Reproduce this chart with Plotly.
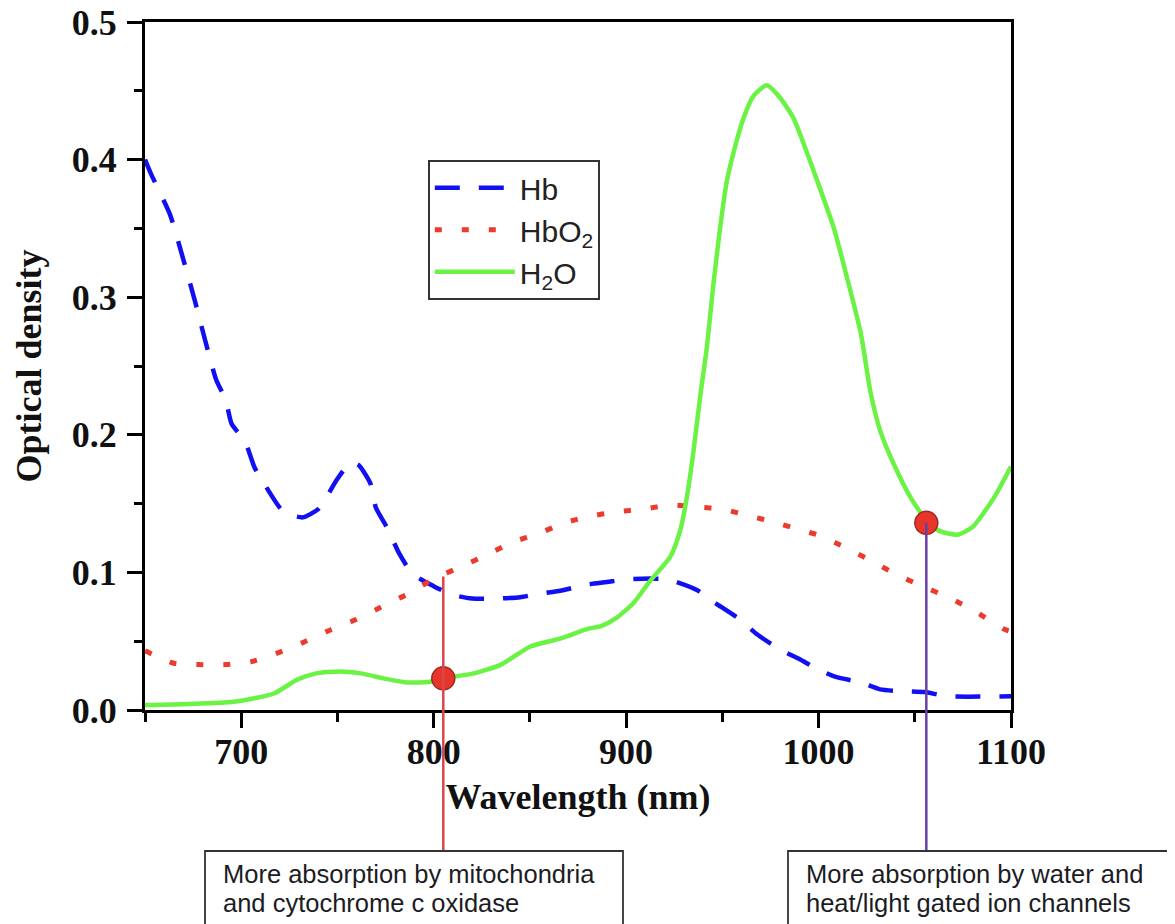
import plotly.graph_objects as go

# ---------------- data ----------------
hb_wl = [650, 653, 663, 670, 676, 681, 687, 692, 695, 702, 707, 713, 722, 732, 740, 744, 750,
         757, 761, 767, 770, 776, 782, 789, 800, 809, 820, 833, 845, 853, 867, 879, 890, 900,
         921, 937, 945, 959, 968, 980, 990, 999, 1009, 1022, 1032, 1044, 1055, 1067, 1100]
hb_od = [0.400, 0.390, 0.360, 0.327, 0.297, 0.270, 0.240, 0.225, 0.208, 0.195, 0.176, 0.162,
         0.144, 0.140, 0.146, 0.154, 0.168, 0.180, 0.178, 0.165, 0.147, 0.132, 0.114, 0.099,
         0.090, 0.084, 0.081, 0.081, 0.082, 0.084, 0.087, 0.091, 0.093, 0.095, 0.095, 0.087,
         0.079, 0.066, 0.055, 0.044, 0.037, 0.030, 0.024, 0.020, 0.015, 0.0136, 0.013, 0.010,
         0.010]

hbo2_wl = [650, 665, 678, 692, 705, 718, 732, 746, 760, 773, 786, 801, 814, 828, 841, 854, 868,
           880, 895, 909, 923, 937, 950, 964, 977, 990, 1000, 1014, 1028, 1041, 1054, 1068,
           1081, 1096, 1100]
hbo2_od = [0.043, 0.034, 0.033, 0.033, 0.035, 0.041, 0.049, 0.058, 0.066, 0.075, 0.084, 0.096,
           0.104, 0.113, 0.122, 0.128, 0.136, 0.1405, 0.144, 0.146, 0.149, 0.1475, 0.146,
           0.141, 0.1365, 0.131, 0.127, 0.118, 0.108, 0.098, 0.090, 0.0815, 0.072, 0.059,
           0.057]

h2o_wl = [650, 673, 696, 717, 729, 739, 751, 762, 774, 786, 798, 805, 821, 835, 850, 866, 880,
          887, 895, 904, 912, 923, 928, 931.5, 935, 938.5, 942, 945.4, 948.8, 952.3, 955.8,
          961, 966, 973, 980, 987, 994, 1001, 1008, 1015, 1022, 1027, 1032, 1039, 1048, 1057,
          1063, 1072, 1080, 1091, 1100]
h2o_od = [0.0036, 0.0044, 0.006, 0.012, 0.022, 0.0266, 0.028, 0.0266, 0.023, 0.020, 0.0206,
          0.023, 0.0266, 0.033, 0.046, 0.052, 0.059, 0.061, 0.067, 0.078, 0.093, 0.1115,
          0.130, 0.154, 0.188, 0.228, 0.264, 0.310, 0.350, 0.384, 0.405, 0.430, 0.446, 0.454,
          0.445, 0.430, 0.405, 0.378, 0.350, 0.313, 0.2735, 0.231, 0.203, 0.179, 0.154, 0.136,
          0.130, 0.1274, 0.133, 0.154, 0.177]

marker_wl = [805, 1056]
marker_od = [0.023, 0.136]
connector_top = [0.097, 0.136]
connector_colors = ["#d9474a", "#6b3fa3"]
note_lines = [["More absorption by mitochondria", "and cytochrome c oxidase"],
              ["More absorption by water and", "heat/light gated ion channels"]]

x_range = [650, 1100]
y_range = [0, 0.5]

# ---------------- figure ----------------
OFF = 8                      # default page body margin of the html page
W, H = 1175 - OFF, 924 - OFF
# target plot area in page pixels: x 145..1011, y 22..710
ML, MT = 145 - OFF, 22 - OFF
MR = W - (1011 - OFF)
MB = H - (710 - OFF)
plot_w = W - ML - MR
plot_h = H - MT - MB


def px_to_paper_x(px):          # page pixel -> paper fraction
    return (px - OFF - ML) / plot_w


def px_to_paper_y(py):
    return (H - MB - (py - OFF)) / plot_h


fig = go.Figure()

fig.add_trace(go.Scatter(x=hb_wl, y=hb_od, mode="lines", name="Hb",
                         line=dict(color="#1010f2", width=4.5, dash="25px,19px",
                                   shape="spline", smoothing=0.6)))
fig.add_trace(go.Scatter(x=hbo2_wl, y=hbo2_od, mode="lines", name="HbO<sub>2</sub>",
                         line=dict(color="#ec3b2e", width=5, dash="7px,20px",
                                   shape="spline", smoothing=0.6)))
fig.add_trace(go.Scatter(x=h2o_wl, y=h2o_od, mode="lines", name="H<sub>2</sub>O",
                         line=dict(color="#6af245", width=4.5, shape="spline", smoothing=0.6)))

# vertical connectors (xref data, yref paper so they extend below the axes)
box_top_px = 851
for wl, top, col in zip(marker_wl, connector_top, connector_colors):
    fig.add_shape(type="line", xref="x", yref="paper", x0=wl, x1=wl,
                  y0=top / (y_range[1] - y_range[0]), y1=px_to_paper_y(box_top_px),
                  line=dict(color=col, width=2.5), layer="above")

fig.add_trace(go.Scatter(x=marker_wl, y=marker_od, mode="markers", showlegend=False,
                         marker=dict(size=23, color="#e8352a",
                                     line=dict(color="#9c2a22", width=1.5)),
                         cliponaxis=False))

# annotation boxes
boxes = [(205, 623, 222), (788, 1200, 805)]
line_mid_px = [874, 903]
for (bx0, bx1, tx), lines in zip(boxes, note_lines):
    fig.add_shape(type="rect", xref="paper", yref="paper",
                  x0=px_to_paper_x(bx0), x1=px_to_paper_x(bx1),
                  y0=px_to_paper_y(box_top_px), y1=px_to_paper_y(960),
                  line=dict(color="#333333", width=1.8), fillcolor="white", layer="above")
    for txt, ym in zip(lines, line_mid_px):
        fig.add_annotation(xref="paper", yref="paper", x=px_to_paper_x(tx),
                           y=px_to_paper_y(ym), xanchor="left", yanchor="middle",
                           text=txt, showarrow=False, align="left", borderpad=0,
                           font=dict(family="Liberation Sans, Arial", size=25.5,
                                     color="#1c1c24"))

tick_font = dict(family="Liberation Serif, Times New Roman", size=36, color="#111111",
                 weight="bold")
title_font = dict(family="Liberation Serif, Times New Roman", size=36, color="#111111",
                  weight="bold")

fig.update_layout(
    width=W, height=H,
    margin=dict(l=ML, r=MR, t=MT, b=MB, autoexpand=False),
    paper_bgcolor="white", plot_bgcolor="white",
    showlegend=True,
    legend=dict(x=px_to_paper_x(428), y=px_to_paper_y(160), xanchor="left", yanchor="top",
                bordercolor="#333333", borderwidth=1.8, bgcolor="white",
                font=dict(family="Liberation Sans, Arial", size=30, color="#222222"),
                itemwidth=80, tracegroupgap=0),
    xaxis=dict(range=x_range, dtick=100, tick0=0, showgrid=False, zeroline=False,
               showline=True, linecolor="black", linewidth=3, mirror=True,
               ticks="outside", ticklen=15, tickwidth=3, tickcolor="black",
               tickfont=tick_font, ticklabelstandoff=-7, automargin=False,
               ticklabeloverflow="allow",
               minor=dict(dtick=50, ticks="outside", ticklen=9, tickwidth=2.5,
                          tickcolor="black", showgrid=False),
               title=dict(text="Wavelength (nm)", font=title_font, standoff=13)),
    yaxis=dict(range=y_range, dtick=0.1, tick0=0, tickformat=".1f", showgrid=False,
               zeroline=False, showline=True, linecolor="black", linewidth=3, mirror=True,
               ticks="outside", ticklen=15, tickwidth=3, tickcolor="black",
               tickfont=tick_font, ticklabelstandoff=3, automargin=False,
               ticklabeloverflow="allow",
               minor=dict(dtick=0.05, ticks="outside", ticklen=8, tickwidth=2.5,
                          tickcolor="black", showgrid=False),
               title=dict(text="Optical density", font=title_font, standoff=20)),
)

fig.write_html("out.html")
